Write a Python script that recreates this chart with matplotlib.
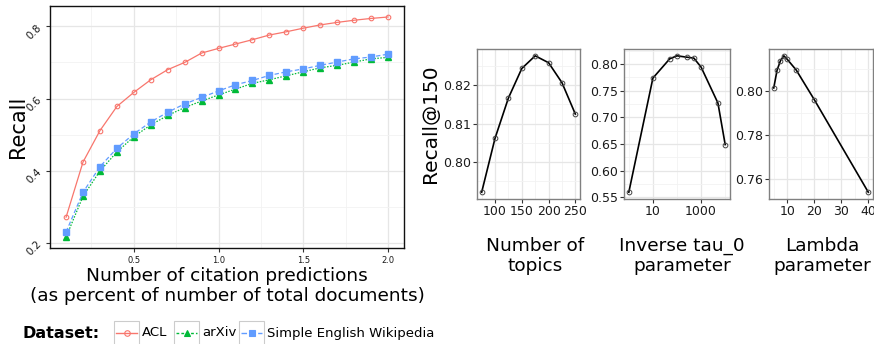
import matplotlib
matplotlib.use('Agg')
import matplotlib.pyplot as plt
from matplotlib.lines import Line2D
from matplotlib.patches import Rectangle
import matplotlib.ticker as mticker

# recall vs. number of predictions (percent of total documents)
pct = [0.1, 0.2, 0.3, 0.4, 0.5, 0.6, 0.7, 0.8, 0.9, 1.0,
       1.1, 1.2, 1.3, 1.4, 1.5, 1.6, 1.7, 1.8, 1.9, 2.0]
acl = [0.271, 0.424, 0.511, 0.578, 0.617, 0.652, 0.680, 0.700, 0.726, 0.739,
       0.751, 0.763, 0.776, 0.785, 0.795, 0.804, 0.811, 0.817, 0.822, 0.826]
arxiv = [0.216, 0.329, 0.399, 0.452, 0.494, 0.527, 0.553, 0.575, 0.593, 0.610,
         0.626, 0.642, 0.652, 0.663, 0.674, 0.685, 0.692, 0.701, 0.710, 0.714]
wiki = [0.230, 0.340, 0.411, 0.462, 0.502, 0.535, 0.562, 0.585, 0.603, 0.621,
        0.638, 0.650, 0.664, 0.674, 0.682, 0.692, 0.701, 0.710, 0.715, 0.723]

# parameter sweeps, Recall@150
topics = [75, 100, 125, 150, 175, 200, 225, 250]
topics_recall = [0.7921, 0.8062, 0.8167, 0.8244, 0.8277, 0.8259, 0.8207, 0.8125]
tau = [1, 10, 50, 100, 250, 500, 1000, 5000, 10000]
tau_recall = [0.5594, 0.7738, 0.8100, 0.8156, 0.8131, 0.8113, 0.7944, 0.7269, 0.6488]
lam = [5, 6.25, 7.5, 8.75, 10, 13.33, 20, 40]
lam_recall = [0.8015, 0.8097, 0.8140, 0.8162, 0.8146, 0.8097, 0.7962, 0.7539]

W, H = 874, 344
fig = plt.figure(figsize=(W / 100, H / 100), dpi=100)


def px_axes(x0, y0, x1, y1):
    # rectangle given in pixels from the top-left corner
    return fig.add_axes([x0 / W, 1 - y1 / H, (x1 - x0) / W, (y1 - y0) / H])


def pad(lo, hi, frac=0.05):
    d = (hi - lo) * frac
    return lo - d, hi + d


def style(ax, edge):
    ax.set_facecolor('white')
    ax.grid(which='major', color='#e6e6e6', lw=0.9)
    ax.grid(which='minor', color='#f2f2f2', lw=0.6)
    ax.set_axisbelow(True)
    for s in ax.spines.values():
        s.set_color(edge)
        s.set_linewidth(1.0)
    ax.tick_params(which='major', length=3, width=0.8, color='#333333',
                   labelcolor='#1a1a1a', pad=1.5)
    ax.tick_params(which='minor', length=0)


colors = {'ACL': '#F8766D', 'arXiv': '#00BA38', 'wiki': '#619CFF'}

# ---- left: recall curves
ax = px_axes(50, 6, 404, 248)
style(ax, '#111111')
ax.plot(pct, acl, color=colors['ACL'], lw=0.9, ls='-', marker='o', ms=3.3,
        mfc='none', mew=0.8)
ax.plot(pct, arxiv, color=colors['arXiv'], lw=0.9, ls=(0, (1.2, 1.2)),
        marker='^', ms=4.5)
ax.plot(pct, wiki, color=colors['wiki'], lw=0.9, ls=(0, (3.5, 2)),
        marker='s', ms=4.2)
ax.set_xlim(*pad(0.1, 2.0))
ax.set_ylim(*pad(0.216, 0.826))
ax.set_xticks([0.5, 1.0, 1.5, 2.0])
ax.set_yticks([0.2, 0.4, 0.6, 0.8])
ax.xaxis.set_minor_locator(mticker.MultipleLocator(0.25))
ax.yaxis.set_minor_locator(mticker.FixedLocator([0.3, 0.5, 0.7]))
ax.tick_params(axis='x', labelsize=6, pad=3)
ax.tick_params(axis='y', labelsize=7.5, labelrotation=45)
ax.set_ylabel('Recall', fontsize=15)
ax.yaxis.set_label_coords(-22 / 354, 0.5)
fig.text(227 / W, 1 - 286 / H,
         'Number of citation predictions\n(as percent of number of total documents)',
         ha='center', va='center', fontsize=13.3, linespacing=1.2)

# ---- right: parameter sweeps
line_kw = dict(color='black', lw=1.2, marker='o', ms=3.4, mfc='none',
               mec='#444444', mew=0.7)

ax1 = px_axes(477, 49, 580, 199)
style(ax1, '#808080')
ax1.plot(topics, topics_recall, **line_kw)
ax1.set_xlim(*pad(75, 250))
ax1.set_ylim(*pad(min(topics_recall), max(topics_recall)))
ax1.set_xticks([100, 150, 200, 250])
ax1.set_yticks([0.80, 0.81, 0.82])
ax1.xaxis.set_minor_locator(mticker.FixedLocator([75, 125, 175, 225]))
ax1.yaxis.set_minor_locator(mticker.FixedLocator([0.795, 0.805, 0.815, 0.825]))
ax1.yaxis.set_major_formatter(mticker.FormatStrFormatter('%.2f'))
ax1.tick_params(labelsize=9)
ax1.set_ylabel('Recall@150', fontsize=14.5)
ax1.yaxis.set_label_coords(-37 / 103, 0.5)

ax2 = px_axes(624, 49, 730, 199)
style(ax2, '#808080')
ax2.plot(tau, tau_recall, **line_kw)
ax2.set_xscale('log')
ax2.set_xlim(10 ** -0.2, 10 ** 4.2)
ax2.set_ylim(*pad(min(tau_recall), max(tau_recall)))
ax2.xaxis.set_major_locator(mticker.FixedLocator([10, 1000]))
ax2.xaxis.set_major_formatter(mticker.FixedFormatter(['10', '1000']))
ax2.xaxis.set_minor_locator(mticker.FixedLocator([1, 100, 10000]))
ax2.xaxis.set_minor_formatter(mticker.NullFormatter())
ax2.set_yticks([0.55, 0.60, 0.65, 0.70, 0.75, 0.80])
ax2.yaxis.set_minor_locator(mticker.FixedLocator([0.575, 0.625, 0.675, 0.725, 0.775, 0.825]))
ax2.yaxis.set_major_formatter(mticker.FormatStrFormatter('%.2f'))
ax2.tick_params(labelsize=9)

ax3 = px_axes(769, 49, 873, 199)
style(ax3, '#808080')
ax3.plot(lam, lam_recall, **line_kw)
ax3.set_xlim(*pad(5, 40))
ax3.set_ylim(*pad(min(lam_recall), max(lam_recall)))
ax3.set_xticks([10, 20, 30, 40])
ax3.set_yticks([0.76, 0.78, 0.80])
ax3.xaxis.set_minor_locator(mticker.FixedLocator([5, 15, 25, 35]))
ax3.yaxis.set_minor_locator(mticker.FixedLocator([0.77, 0.79, 0.81]))
ax3.yaxis.set_major_formatter(mticker.FormatStrFormatter('%.2f'))
ax3.tick_params(labelsize=9)

for xc, txt in [(535, 'Number of\ntopics'), (682, 'Inverse tau_0\nparameter'),
                (822, 'Lambda\nparameter')]:
    fig.text(xc / W, 1 - 256 / H, txt, ha='center', va='center',
             fontsize=13.3, linespacing=1.2)

# ---- legend strip
fig.text(22 / W, 1 - 333 / H, 'Dataset:', ha='left', va='center',
         fontsize=11.5, fontweight='bold')
keys = [('ACL', colors['ACL'], '-', 'o', 'none', 114),
        ('arXiv', colors['arXiv'], (0, (2, 1.5)), '^', colors['arXiv'], 174),
        ('Simple English Wikipedia', colors['wiki'], (0, (4, 2)), 's', colors['wiki'], 239)]
for label, c, ls, mk, mfc, x0 in keys:
    fig.patches.append(Rectangle((x0 / W, 1 - 345 / H), 25 / W, 24 / H,
                                 transform=fig.transFigure, fc='white',
                                 ec='#cccccc', lw=0.8))
    fig.lines.append(Line2D([(x0 + 2) / W, (x0 + 23) / W], [1 - 333 / H] * 2,
                            transform=fig.transFigure, color=c, ls=ls, lw=1.0))
    fig.lines.append(Line2D([(x0 + 12.5) / W], [1 - 333 / H],
                            transform=fig.transFigure, color=c, marker=mk,
                            ms=4, mfc=mfc, mew=0.8, ls='none'))
    fig.text((x0 + 28) / W, 1 - 333 / H, label, ha='left', va='center',
             fontsize=9.5)

fig.savefig('out.png', dpi=100)
